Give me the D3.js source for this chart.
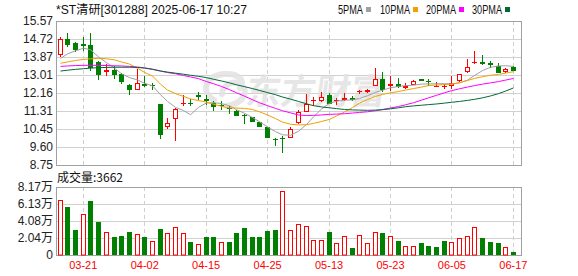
<!DOCTYPE html>
<html><head><meta charset="utf-8">
<script src="https://cdn.jsdelivr.net/npm/d3@7"></script>
<style>
body{margin:0;background:#fff;}
svg{display:block;font-family:Arial,"Liberation Sans",sans-serif;}
</style>
</head><body>
<svg id="chart" width="578" height="276"></svg>
<script>
// ---------------- data ----------------
const title = "*ST清研[301288] 2025-06-17 10:27";
const volTitle = "成交量:3662";
const maNames = ["5PMA", "10PMA", "20PMA", "30PMA"];
const maColors = ["#a0a0a0", "#f0a000", "#ff00ff", "#006a35"];

const dates = ["03-18","03-19","03-20","03-21","03-24","03-25","03-26","03-27","03-28","03-31",
  "04-01","04-02","04-03","04-07","04-08","04-09","04-10","04-11","04-14","04-15",
  "04-16","04-17","04-18","04-21","04-22","04-23","04-24","04-25","04-28","04-29",
  "05-06","05-07","05-08","05-09","05-12","05-13","05-14","05-15","05-16","05-19",
  "05-20","05-21","05-22","05-23","05-26","05-27","05-28","05-29","05-30","06-03",
  "06-04","06-05","06-06","06-09","06-10","06-11","06-12","06-13","06-16","06-17"];

const open = [13.98,14.70,14.52,14.48,14.41,13.64,13.16,13.27,13.06,12.56,
  12.29,12.60,12.53,11.64,10.53,10.92,11.67,11.70,12.08,11.86,
  11.70,11.60,11.46,11.32,11.11,11.00,10.80,10.53,9.99,10.03,
  10.02,10.72,11.26,11.80,11.80,12.05,11.78,11.81,11.91,12.21,
  12.21,12.51,12.84,12.48,12.60,12.38,12.56,12.81,12.73,12.48,
  12.45,12.48,12.72,13.16,13.62,13.65,13.56,13.43,13.14,13.40];
const high = [14.82,15.01,14.57,14.82,14.98,13.67,13.54,13.43,13.11,12.60,
  13.30,12.98,12.64,11.64,10.97,11.43,12.08,11.87,12.19,12.05,
  11.78,11.76,11.53,11.37,11.18,11.00,10.80,10.53,10.05,10.10,
  10.53,11.37,12.13,11.97,12.21,12.16,11.94,12.16,12.00,12.32,
  12.35,13.35,13.16,12.95,12.89,12.64,12.79,12.84,12.83,12.70,
  12.60,12.95,13.08,13.75,14.13,13.94,13.67,13.59,13.35,13.46];
const low = [13.86,14.33,14.10,14.15,13.19,12.76,12.95,12.83,12.60,12.05,
  12.29,12.45,12.29,9.99,10.45,9.91,11.53,11.53,11.81,11.60,
  11.29,11.34,11.16,11.05,10.70,10.81,10.54,10.05,9.65,9.34,
  10.02,10.70,11.26,11.53,11.72,11.64,11.59,11.80,11.76,12.13,
  12.16,12.48,12.19,12.24,12.38,12.37,12.56,12.72,12.48,12.43,
  12.35,12.37,12.68,13.11,13.51,13.48,13.35,13.11,13.11,13.19];
const close = [14.70,14.43,14.19,14.38,13.35,13.00,13.27,13.03,12.67,12.32,
  12.64,12.48,12.50,10.15,10.73,11.40,11.70,11.65,11.97,11.80,
  11.52,11.55,11.40,11.08,11.07,10.81,10.54,10.05,9.94,9.97,
  10.46,11.26,11.64,11.84,11.97,11.65,11.84,11.92,11.83,12.24,
  12.32,12.84,12.32,12.60,12.45,12.49,12.75,12.72,12.68,12.51,
  12.48,12.64,13.08,13.40,13.65,13.51,13.49,13.11,13.30,13.19];

// volume in 万 (10k)
const volume = [6.64,5.72,3.02,4.91,6.52,3.94,2.74,2.17,2.29,2.74,
  2.50,2.17,1.65,3.14,2.62,3.34,2.62,1.57,1.29,2.17,
  2.17,1.53,1.57,2.66,3.26,2.17,2.17,2.90,3.02,7.73,
  2.95,3.67,3.47,1.76,1.76,2.75,1.40,2.23,0.84,2.35,
  1.40,2.71,2.63,2.23,1.68,1.08,1.08,1.44,1.08,0.96,
  1.68,1.52,2.00,2.23,3.31,2.03,1.56,1.44,0.96,0.37];

const ma5 = [13.80,14.01,14.16,14.28,14.21,13.87,13.60,13.34,13.07,12.89,
  12.78,12.62,12.50,12.08,11.76,11.48,11.33,11.13,11.48,11.69,
  11.70,11.66,11.55,11.37,11.20,11.00,10.80,10.55,10.33,10.18,
  10.16,10.35,10.67,11.03,11.40,11.67,11.77,11.82,11.83,11.90,
  12.03,12.19,12.29,12.41,12.47,12.51,12.53,12.58,12.59,12.60,
  12.60,12.59,12.64,12.77,12.99,13.22,13.38,13.44,13.45,13.42];
const ma10 = [13.57,13.63,13.70,13.75,13.78,13.80,13.78,13.73,13.63,13.53,
  13.33,13.14,12.96,12.58,12.30,12.13,12.00,11.88,11.80,11.73,
  11.63,11.53,11.45,11.45,11.43,11.38,11.27,11.12,10.95,10.78,
  10.68,10.65,10.66,10.72,10.81,10.91,11.07,11.26,11.47,11.68,
  11.85,12.00,12.09,12.17,12.23,12.30,12.37,12.44,12.51,12.54,
  12.56,12.57,12.65,12.75,12.85,12.93,13.00,13.04,13.10,13.17];
const ma20 = [13.42,13.44,13.46,13.47,13.47,13.47,13.46,13.45,13.44,13.42,
  13.39,13.35,13.29,13.20,13.13,13.07,12.99,12.92,12.84,12.70,
  12.60,12.47,12.32,12.17,12.01,11.84,11.70,11.56,11.43,11.32,
  11.22,11.12,11.09,11.10,11.12,11.15,11.16,11.18,11.21,11.24,
  11.27,11.32,11.38,11.45,11.52,11.60,11.70,11.82,11.93,12.05,
  12.17,12.27,12.36,12.44,12.51,12.58,12.64,12.70,12.77,12.85];
const ma30 = [13.20,13.24,13.28,13.31,13.34,13.36,13.37,13.38,13.38,13.38,
  13.37,13.34,13.28,13.20,13.15,13.10,13.05,13.00,12.95,12.89,
  12.81,12.73,12.64,12.55,12.46,12.37,12.28,12.18,12.08,11.97,
  11.87,11.76,11.65,11.56,11.50,11.46,11.42,11.38,11.36,11.35,
  11.34,11.35,11.37,11.41,11.46,11.51,11.55,11.58,11.61,11.64,
  11.68,11.72,11.76,11.81,11.86,11.93,12.02,12.13,12.25,12.40];

const priceTicks = [15.57,14.72,13.87,13.01,12.16,11.31,10.45,9.60,8.75];
const volTicks = [8.17,6.13,4.08,2.04,0];
const volTickLabels = ["8.17万","6.13万","4.08万","2.04万","0"];
const dateTicks = ["03-21","04-02","04-15","04-25","05-13","05-23","06-05","06-17"];

// ---------------- layout ----------------
const L = 56, R = 522;
const mainTop = 21, mainBot = 165;
const volTop = 187, volBot = 255;
const RED = "#ff0000", GREEN = "#008000";

const svg = d3.select("#chart");
const x = d3.scaleBand().domain(dates).range([56.4, 517.2]).padding(0);
const cx = d => Math.round(x(d) + x.bandwidth() / 2 - 0.5) + 0.5;
const y = d3.scaleLinear().domain([8.75, 15.57]).range([mainBot, mainTop]);
const vy = d3.scaleLinear().domain([0, 8.17]).range([volBot, volTop]);
const py = v => Math.round(v) + 0.5;

// grids
function panelGrid(scale, ticks, top, bot) {
  const g = svg.append("g");
  g.selectAll("line.h").data(ticks).join("line")
    .attr("x1", L).attr("x2", R)
    .attr("y1", d => py(scale(d))).attr("y2", d => py(scale(d)))
    .attr("stroke", "#d0d0d0").attr("stroke-width", 1);
  g.selectAll("line.v").data(dateTicks).join("line")
    .attr("x1", d => cx(d)).attr("x2", d => cx(d))
    .attr("y1", top).attr("y2", bot)
    .attr("stroke", "#cfcfcf").attr("stroke-dasharray", "4,3");
  g.append("rect").attr("x", L + 0.5).attr("y", top + 0.5)
    .attr("width", R - L - 1).attr("height", bot - top)
    .attr("fill", "none").attr("stroke", "#a0a0a0");
}
panelGrid(y, priceTicks, mainTop, mainBot);
panelGrid(vy, volTicks, volTop, volBot);

// watermark
const wm = svg.append("g").attr("opacity", 0.85);
wm.append("path")
  .attr("d", "M214,100 C200,92 205,76 224,74 C238,73 246,80 240,88 M226,106 C244,104 250,90 240,84 C232,80 222,86 222,94")
  .attr("fill", "none").attr("stroke", "#e2e2e2").attr("stroke-width", 6).attr("stroke-linecap", "round");
wm.append("text").attr("x", 246).attr("y", 104)
  .attr("font-family", "'Noto Sans CJK SC', sans-serif").attr("font-weight", "bold")
  .attr("font-size", 35).attr("fill", "#e2e2e2")
  .attr("transform", "skewX(-8) translate(13,0)")
  .text("东方财富");

// y axes
const yAxis = d3.axisLeft(y).tickValues(priceTicks).tickFormat(d3.format(".2f")).tickSize(0).tickPadding(0);
svg.append("g").attr("transform", "translate(53,0)").call(yAxis)
  .call(g => g.select(".domain").remove())
  .call(g => g.selectAll("text").attr("font-size", 12).attr("fill", "#222").attr("font-family", "Arial, 'Liberation Sans', sans-serif"));

const vAxis = d3.axisLeft(vy).tickValues(volTicks).tickFormat((d, i) => volTickLabels[i]).tickSize(0).tickPadding(0);
svg.append("g").attr("transform", "translate(53,0)").call(vAxis)
  .call(g => g.select(".domain").remove())
  .call(g => g.selectAll("text").attr("font-size", 12).attr("fill", "#222").attr("font-family", "Arial, 'Noto Sans CJK SC', sans-serif"));

// x axis
const xAxis = d3.axisBottom(x).tickValues(dateTicks).tickSize(0).tickPadding(0);
svg.append("g").attr("transform", "translate(0,261)").call(xAxis)
  .call(g => g.select(".domain").remove())
  .call(g => g.selectAll("text").attr("font-size", 11).attr("fill", RED).attr("font-family", "Arial, 'Liberation Sans', sans-serif"));

// candles
const candles = svg.append("g");
dates.forEach((d, i) => {
  const c = cx(d);
  const o = open[i], cl = close[i];
  const up = cl >= o;
  const yH = Math.round(y(high[i])), yL = Math.round(y(low[i]));
  const yTop = Math.round(y(Math.max(o, cl))), yBot = Math.round(y(Math.min(o, cl)));
  const col = up ? RED : GREEN;
  if (up) {
    if (yBot - yTop <= 1) {
      candles.append("line").attr("x1", c).attr("x2", c).attr("y1", yH).attr("y2", yL).attr("stroke", col);
      candles.append("rect").attr("x", c - 2.5).attr("y", yTop).attr("width", 5).attr("height", 1).attr("fill", col);
    } else {
      candles.append("line").attr("x1", c).attr("x2", c).attr("y1", yH).attr("y2", yTop).attr("stroke", col);
      candles.append("line").attr("x1", c).attr("x2", c).attr("y1", yBot).attr("y2", yL).attr("stroke", col);
      candles.append("rect").attr("x", c - 2).attr("y", yTop + 0.5).attr("width", 4).attr("height", yBot - yTop - 1)
        .attr("fill", "#fff").attr("stroke", col);
    }
  } else {
    candles.append("line").attr("x1", c).attr("x2", c).attr("y1", yH).attr("y2", yL).attr("stroke", col);
    candles.append("rect").attr("x", c - 2.5).attr("y", yTop).attr("width", 5).attr("height", Math.max(yBot - yTop, 1)).attr("fill", col);
  }
});

// MA lines
[ma5, ma10, ma20, ma30].forEach((arr, k) => {
  const line = d3.line().x((v, i) => cx(dates[i])).y(v => y(v));
  svg.append("path").attr("d", line(arr)).attr("fill", "none")
    .attr("stroke", maColors[k]).attr("stroke-width", 1);
});

// volume bars
const vols = svg.append("g");
dates.forEach((d, i) => {
  const c = cx(d);
  const up = i === 0 ? true : close[i] >= close[i - 1];
  const top = Math.round(vy(volume[i]));
  if (up) {
    vols.append("rect").attr("x", c - 2).attr("y", top + 0.5).attr("width", 4).attr("height", volBot - top - 0.5)
      .attr("fill", "#fff").attr("stroke", RED);
  } else {
    vols.append("rect").attr("x", c - 2.5).attr("y", top).attr("width", 5).attr("height", volBot - top).attr("fill", GREEN);
  }
});

// header
svg.append("text").attr("x", 56).attr("y", 14).attr("font-size", 12).attr("fill", "#111")
  .attr("font-family", "Arial, 'Noto Sans CJK SC', sans-serif")
  .attr("textLength", 191).attr("lengthAdjust", "spacingAndGlyphs").text(title);

const legX = [338, 380, 426, 472];
const legW = [25, 30, 30, 30];
maNames.forEach((n, k) => {
  svg.append("text").attr("x", legX[k]).attr("y", 14).attr("font-size", 12).attr("fill", "#111")
    .attr("textLength", legW[k]).attr("lengthAdjust", "spacingAndGlyphs").text(n);
  svg.append("rect").attr("x", legX[k] + legW[k] + 3).attr("y", 7).attr("width", 5).attr("height", 5).attr("fill", maColors[k]);
});

svg.append("text").attr("x", 57).attr("y", 182).attr("font-size", 12).attr("fill", "#111")
  .attr("font-family", "'Noto Sans CJK SC', Arial, sans-serif").text(volTitle);
</script>
</body></html>
